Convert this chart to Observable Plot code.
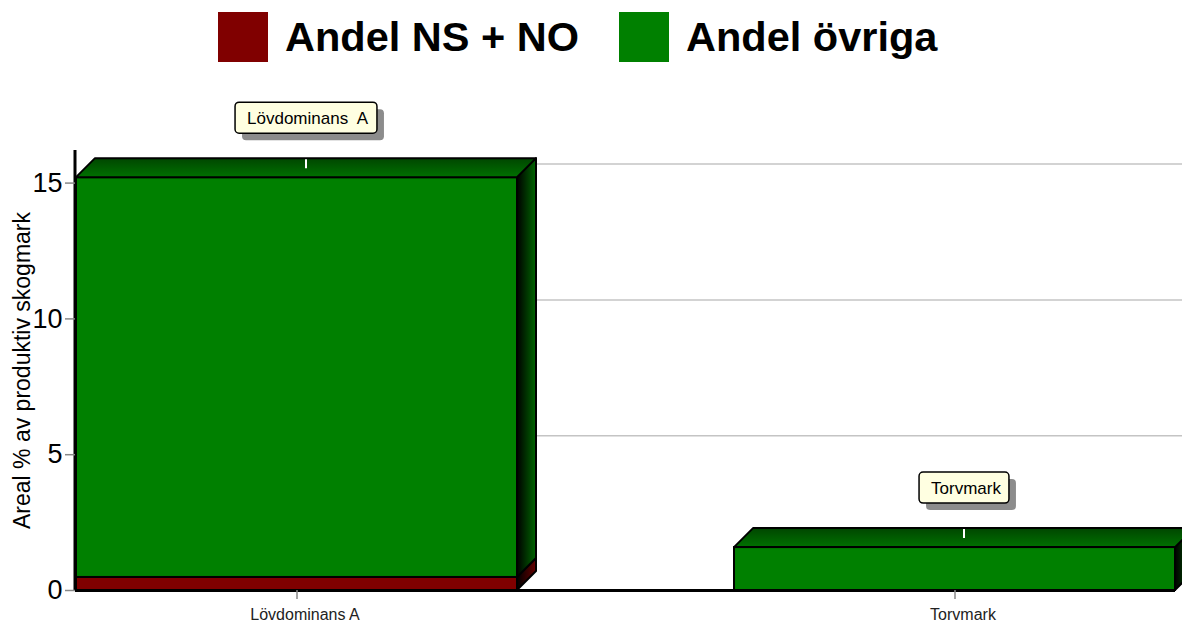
<!DOCTYPE html>
<html>
<head>
<meta charset="utf-8">
<script src="https://cdn.jsdelivr.net/npm/d3@7"></script>
<script src="https://cdn.jsdelivr.net/npm/@observablehq/plot@0.6"></script>
<style>
  body { margin: 0; background: #fff; font-family: "Liberation Sans", Arial, sans-serif; }
  #legend { height: 80px; display: flex; align-items: center; padding-left: 218px; box-sizing: border-box; padding-bottom: 6px; }
  .sw { width: 50px; height: 50px; flex: none; }
  .lt { font-weight: bold; font-size: 41.5px; color: #000; margin-left: 17px; margin-right: 40px; white-space: nowrap; }
  #chart svg { display: block; overflow: visible; }
</style>
</head>
<body>
<div id="legend"></div>
<div id="chart"></div>
<script>
// ---- data ----
const categories = ["Lövdominans A", "Torvmark"];
const boxLabels = ["Lövdominans  A", "Torvmark"];
const seriesNames = ["Andel NS + NO", "Andel övriga"];
const andelNSNO = [0.48, 0];
const andelOvriga = [14.72, 1.58];
const yTicks = [0, 5, 10, 15];
const gridValues = [5, 10, 15];
const seriesColors = ["#800000", "#008000"];
const yLabel = "Areal % av produktiv skogmark";

// table for Plot (category-major so stacks draw bottom-up)
const table = [];
categories.forEach((c, j) => {
  table.push({category: c, series: seriesNames[0], value: andelNSNO[j]});
  table.push({category: c, series: seriesNames[1], value: andelOvriga[j]});
});

// ---- legend ----
const legend = d3.select("#legend");
seriesNames.forEach((s, k) => {
  legend.append("div").attr("class", "sw").style("background", seriesColors[k]);
  legend.append("div").attr("class", "lt").text(s);
});

const D = 19; // 3D depth in px

function measure(text, font) {
  const ctx = document.createElement("canvas").getContext("2d");
  ctx.font = font;
  return ctx.measureText(text).width;
}

function bars3d(index, scales, values, dimensions, context, next) {
  const base = next(index, scales, values, dimensions, context);
  const rects = Array.from(base.querySelectorAll("rect")).map(r => ({
    i: r.__data__,
    x: +r.getAttribute("x"), y: +r.getAttribute("y"),
    w: +r.getAttribute("width"), h: +r.getAttribute("height")
  }));
  const g = d3.create("svg:g");
  const defs = g.append("defs");
  seriesColors.forEach((c, k) => {
    const tg = defs.append("linearGradient").attr("id", "topg" + k)
      .attr("x1", 0).attr("y1", 0).attr("x2", 0).attr("y2", 1);
    tg.append("stop").attr("offset", 0).attr("stop-color", d3.interpolateRgb(c, "#000")(0.45));
    tg.append("stop").attr("offset", 1).attr("stop-color", d3.interpolateRgb(c, "#000")(0.12));
    const sg = defs.append("linearGradient").attr("id", "sideg" + k)
      .attr("x1", 0).attr("y1", 0).attr("x2", 1).attr("y2", 0);
    sg.append("stop").attr("offset", 0).attr("stop-color", "#000");
    sg.append("stop").attr("offset", 1).attr("stop-color", d3.interpolateRgb(c, "#000")(0.2));
  });
  // left axis line
  g.append("line")
    .attr("x1", dimensions.marginLeft).attr("x2", dimensions.marginLeft)
    .attr("y1", dimensions.marginTop).attr("y2", dimensions.height - dimensions.marginBottom)
    .attr("stroke", "#000").attr("stroke-width", 3);

  const topY = d3.rollup(rects.filter(r => r.h > 0), v => d3.min(v, r => r.y), r => table[r.i].category);
  const tops = [];
  for (const r of rects) {
    if (!(r.h > 0)) continue;
    const row = table[r.i];
    const k = seriesNames.indexOf(row.series);
    const {x, y, w, h} = r;
    g.append("polygon")
      .attr("points", [[x + w, y], [x + w + D, y - D], [x + w + D, y + h - D], [x + w, y + h]].join(" "))
      .attr("fill", `url(#sideg${k})`).attr("stroke", "#000").attr("stroke-width", 2).attr("stroke-linejoin", "round");
    g.append("rect").attr("x", x).attr("y", y).attr("width", w).attr("height", h)
      .attr("fill", seriesColors[k]).attr("stroke", "#000").attr("stroke-width", 2);
    if (y === topY.get(row.category)) {
      g.append("polygon")
        .attr("points", [[x, y], [x + D, y - D], [x + w + D, y - D], [x + w, y]].join(" "))
        .attr("fill", `url(#topg${k})`).attr("stroke", "#000").attr("stroke-width", 2).attr("stroke-linejoin", "round");
      const cx = x + w / 2 + D / 2;
      g.append("line").attr("x1", cx).attr("x2", cx).attr("y1", y - D + 1).attr("y2", y - D + 10)
        .attr("stroke", "#fff").attr("stroke-width", 2);
      tops.push({cx, y: y - D, label: boxLabels[categories.indexOf(row.category)]});
    }
  }
  // annotation boxes
  const font = "17px 'Liberation Sans', Arial, sans-serif";
  for (const t of tops) {
    const tw = measure(t.label, font);
    const bw = tw + 20, bh = 31;
    const bx = t.cx - bw / 2, by = t.y - 25 - bh;
    g.append("rect").attr("x", bx + 7).attr("y", by + 7).attr("width", bw).attr("height", bh)
      .attr("rx", 4).attr("fill", "#8c8c8c");
    g.append("rect").attr("x", bx).attr("y", by).attr("width", bw).attr("height", bh)
      .attr("rx", 4).attr("fill", "#ffffe1").attr("stroke", "#000").attr("stroke-width", 1.5);
    g.append("text").attr("x", bx + 12).attr("y", by + bh / 2 + 6)
      .attr("font-size", 17).attr("fill", "#000").attr("text-anchor", "start")
      .style("white-space", "pre").attr("xml:space", "preserve")
      .text(t.label);
  }
  return g.node();
}

const plot = Plot.plot({
  width: 1182,
  height: 543,
  marginTop: 70,
  marginBottom: 33,
  marginLeft: 75,
  marginRight: 7,
  style: {fontFamily: "'Liberation Sans', Arial, sans-serif", background: "transparent", overflow: "visible"},
  x: {type: "band", domain: categories, paddingInner: 0.33, paddingOuter: 0, label: null},
  y: {domain: [0, 16.2], label: null},
  color: {domain: seriesNames, range: seriesColors},
  marks: [
    Plot.ruleY(gridValues, {dx: D, dy: -D, stroke: "#c4c4c4", strokeWidth: 1.5}),
    Plot.ruleY([0], {stroke: "#000", strokeWidth: 3}),
    Plot.barY(table, {x: "category", y: "value", fill: "series", render: bars3d}),
    Plot.axisY({ticks: yTicks, tickSize: 10, tickPadding: 3, fontSize: 27, stroke: "#888", strokeWidth: 1.5, fill: "#000", label: null, tickFormat: d => String(d)}),
    Plot.axisX({tickSize: 9, stroke: "#888", strokeWidth: 1.5, label: null, tickFormat: () => ""}),
    Plot.axisX({tickSize: 0, tickPadding: 18, dx: 8, fontSize: 16, fill: "#222", label: null}),
    Plot.text([yLabel], {frameAnchor: "left", rotate: -90, dx: -53, fontSize: 23, fill: "#000", textAnchor: "middle", text: d => d})
  ]
});
document.getElementById("chart").appendChild(plot);
</script>
</body>
</html>
